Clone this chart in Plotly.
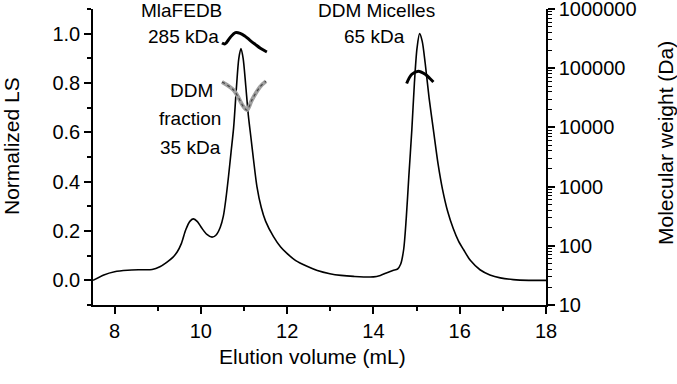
import plotly.graph_objects as go

# Light scattering trace (normalized)
ls_volume = [7.5, 7.75, 8.0, 8.3, 8.6, 8.87, 9.05, 9.2, 9.35, 9.45, 9.55, 9.65, 9.75, 9.83, 9.92,
             10.02, 10.14, 10.26, 10.36, 10.45, 10.52, 10.58, 10.64, 10.70, 10.76, 10.82, 10.88,
             10.93, 10.98, 11.04, 11.10, 11.16, 11.22, 11.30, 11.40, 11.5, 11.68, 11.85, 11.99,
             12.2, 12.46, 12.7, 12.99, 13.25, 13.54, 14.0, 14.16, 14.3, 14.45, 14.56, 14.63,
             14.70, 14.76, 14.82, 14.89, 14.95, 15.01, 15.07, 15.13, 15.2, 15.29, 15.39, 15.5,
             15.6, 15.72, 15.85, 15.97, 16.09, 16.25, 16.47, 16.7, 16.94, 17.24, 17.6, 18.0]
ls_signal = [0.0, 0.022, 0.035, 0.041, 0.043, 0.044, 0.055, 0.072, 0.093, 0.115, 0.15, 0.205, 0.24,
             0.249, 0.238, 0.212, 0.186, 0.175, 0.185, 0.215, 0.259, 0.33, 0.42, 0.52, 0.62, 0.77,
             0.9, 0.94, 0.9, 0.79, 0.67, 0.58, 0.49, 0.38, 0.295, 0.24, 0.178, 0.135, 0.11,
             0.08, 0.057, 0.04, 0.027, 0.02, 0.016, 0.014, 0.02, 0.03, 0.04, 0.046, 0.065,
             0.124, 0.25, 0.42, 0.61, 0.8, 0.94, 1.0, 0.97, 0.88, 0.74, 0.61, 0.47,
             0.37, 0.28, 0.21, 0.16, 0.124, 0.08, 0.043, 0.022, 0.01, 0.003, 0.0, 0.0]

# Molar mass: MlaFEDB complex
mla_volume = [10.49, 10.56, 10.68, 10.80, 10.91, 11.03, 11.14, 11.26, 11.38, 11.53]
mla_mw = [267e3, 258e3, 331e3, 398e3, 388e3, 345e3, 296e3, 253e3, 217e3, 188e3]

# Molar mass: DDM fraction
ddm_volume = [10.49, 10.76, 10.99, 11.07, 11.18, 11.37, 11.51]
ddm_mw = [58.6e3, 42.5e3, 22.3e3, 19.6e3, 28.8e3, 48.3e3, 60.2e3]

# Molar mass: DDM micelles
mic_volume = [14.77, 14.89, 15.04, 15.20, 15.31, 15.39]
mic_mw = [55.2e3, 79e3, 88.9e3, 79e3, 67e3, 58.6e3]

x_ticks = [8, 10, 12, 14, 16, 18]
y_ticks = [0.0, 0.2, 0.4, 0.6, 0.8, 1.0]
mw_ticks = [10, 100, 1000, 10000, 100000, 1000000]

font = "Liberation Sans, Arial, sans-serif"

fig = go.Figure()
fig.add_trace(go.Scatter(x=ls_volume, y=ls_signal, mode="lines",
                         line=dict(color="black", width=1.6, shape="spline", smoothing=0.8), yaxis="y"))
fig.add_trace(go.Scatter(x=mla_volume, y=mla_mw, mode="lines",
                         line=dict(color="black", width=3, shape="spline"), yaxis="y2"))
fig.add_trace(go.Scatter(x=ddm_volume, y=ddm_mw, mode="lines",
                         line=dict(color="#a0a0a0", width=4, shape="spline"), yaxis="y2"))
fig.add_trace(go.Scatter(x=ddm_volume, y=ddm_mw, mode="lines",
                         line=dict(color="#444444", width=1.2, dash="dot", shape="spline"), yaxis="y2"))
fig.add_trace(go.Scatter(x=mic_volume, y=mic_mw, mode="lines",
                         line=dict(color="black", width=3, shape="spline"), yaxis="y2"))

axis_common = dict(showgrid=False, zeroline=False, showline=True, linecolor="black", linewidth=1.5,
                   ticks="outside", tickcolor="black", tickwidth=1.5, ticklen=7, automargin=False,
                   tickfont=dict(family=font, size=20, color="black"))

fig.update_layout(
    width=677, height=384,
    margin=dict(l=93, r=131, t=8.6, b=78.6, autoexpand=False),
    paper_bgcolor="white", plot_bgcolor="white",
    showlegend=False,
    xaxis=dict(range=[7.5, 18], tickvals=x_ticks, ticktext=[str(v) for v in x_ticks],
               minor=dict(ticks="outside", dtick=1, ticklen=4, tickcolor="black", tickwidth=1.5),
               **axis_common),
    yaxis=dict(range=[-0.1, 1.1], tickvals=y_ticks, ticktext=[f"{v:.1f}" for v in y_ticks],
               minor=dict(ticks="outside", dtick=0.1, tick0=0, ticklen=4, tickcolor="black", tickwidth=1.5),
               **axis_common),
    yaxis2=dict(type="log", range=[1, 6], overlaying="y", side="right", anchor="x",
                tickvals=mw_ticks, ticktext=[str(v) for v in mw_ticks], ticklabeloverflow="allow",
                minor=dict(ticks="outside", dtick="D1", ticklen=4, tickcolor="black", tickwidth=1.2),
                **axis_common),
)

ann_font = dict(family=font, size=19, color="black")
x0, x1 = 93.0, 546.0
y0, y1 = 8.6, 305.4


def px_to_paper(px, py):
    return (px - x0) / (x1 - x0), (y1 - py) / (y1 - y0)


labels = [
    ("MlaFEDB", 181, 10), ("285 kDa", 183, 36),
    ("DDM Micelles", 376, 10), ("65 kDa", 374, 36),
    ("DDM", 191, 90), ("fraction", 190, 118), ("35 kDa", 190, 147),
]
for txt, px, py in labels:
    xp, yp = px_to_paper(px, py)
    fig.add_annotation(text=txt, x=xp, y=yp, xref="paper", yref="paper", showarrow=False,
                       font=ann_font, xanchor="center", yanchor="middle")

title_font = dict(family=font, size=21, color="black")
for txt, px, py, ang in [("Normalized LS", 11, 146, -90),
                         ("Molecular weight (Da)", 665, 143, -90),
                         ("Elution volume (mL)", 312, 357, 0)]:
    xp, yp = px_to_paper(px, py)
    fig.add_annotation(text=txt, x=xp, y=yp, xref="paper", yref="paper", showarrow=False,
                       textangle=ang, font=title_font, xanchor="center", yanchor="middle")

fig.write_html("out.html", config={"displayModeBar": False},
               post_script="document.body.style.margin='0';document.body.style.overflow='hidden';")
